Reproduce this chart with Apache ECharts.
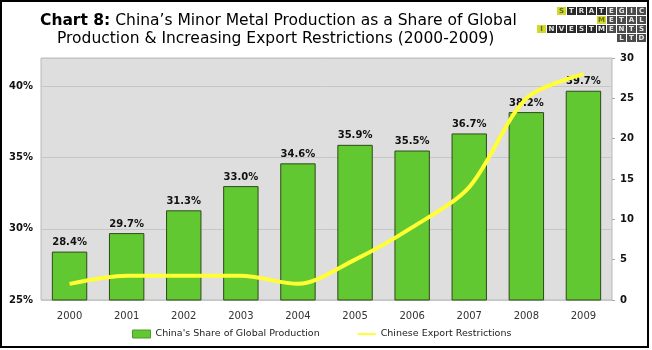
<!DOCTYPE html>
<html>
<head>
<meta charset="utf-8">
<script src="https://cdn.jsdelivr.net/npm/echarts@6/dist/echarts.min.js"></script>
<style>
html,body{margin:0;padding:0;background:#fff;}
#chart{width:652px;height:350px;}
</style>
</head>
<body>
<div id="chart"></div>
<script>
var years = ['2000','2001','2002','2003','2004','2005','2006','2007','2008','2009'];
var shareOfGlobal = [28.4, 29.7, 31.3, 33.0, 34.6, 35.9, 35.5, 36.7, 38.2, 39.7];
var exportRestrictions = [2, 3, 3, 3, 2, 5, 9, 14, 25, 28];
var seriesNames = ["China's Share of Global Production", "Chinese Export Restrictions"];
var titleBold = 'Chart 8:';
var titleLine1 = " China\u2019s Minor Metal Production as a Share of Global";
var titleLine2 = 'Production & Increasing Export Restrictions (2000-2009)';
var logoRows = [
  {word: 'STRATEGIC', startCol: 0, hi: 0},
  {word: 'METAL', startCol: 4, hi: 0},
  {word: 'INVESTMENTS', startCol: -2, hi: 0},
  {word: 'LTD', startCol: 6, hi: -1}
];

var font = 'DejaVu Sans';
var chart = echarts.init(document.getElementById('chart'), null, {renderer: 'canvas'});

var logoEls = [];
logoRows.forEach(function (row, r) {
  for (var i = 0; i < row.word.length; i++) {
    var c = row.startCol + i;
    var x = 557 + 10 * c, y = 7 + 9 * r;
    var isHi = (i === row.hi);
    logoEls.push({
      type: 'rect', shape: {x: x, y: y, width: 9, height: 8},
      style: {fill: isHi ? '#d2d92e' : (c >= 5 ? '#4a4a4a' : '#2b2b2b')}
    });
    logoEls.push({
      type: 'text', x: x + 4.5, y: y + 4.5,
      style: {text: row.word[i], fill: isHi ? '#6b6b1a' : '#e8e8e8', font: 'bold 7px ' + font, align: 'center', verticalAlign: 'middle'}
    });
  }
});

var option = {
  animation: false,
  backgroundColor: '#ffffff',
  textStyle: {fontFamily: font},
  graphic: [
    {type: 'rect', shape: {x: 1, y: 1, width: 647, height: 346}, style: {fill: 'none', stroke: '#000', lineWidth: 2}, z: 100},
    {type: 'text', top: 13, left: 40, style: {
      rich: {b: {font: 'bold 15.5px ' + font, fill: '#000'}, n: {font: '15.5px ' + font, fill: '#000'}},
      text: '{b|' + titleBold + '}{n|' + titleLine1 + '}'
    }},
    {type: 'text', top: 31, left: 57, style: {text: titleLine2, font: '15.5px ' + font, fill: '#000'}},
    {type: 'group', children: logoEls}
  ],
  grid: {left: 41, right: 40, top: 58, bottom: 50, show: true, backgroundColor: '#dedede', borderColor: '#b8b8b8', borderWidth: 1},
  legend: {
    bottom: 6, left: 127, itemGap: 38, itemWidth: 18, itemHeight: 8,
    textStyle: {fontFamily: font, fontSize: 9.5, color: '#222'},
    data: [
      {name: seriesNames[0], icon: 'rect', itemStyle: {borderColor: '#4f9a2a', borderWidth: 1}},
      {name: seriesNames[1], icon: 'path://M0,3 L18,3 L18,5 L0,5 Z'}
    ]
  },
  xAxis: {
    type: 'category', data: years,
    axisLine: {show: false}, axisTick: {show: false},
    axisLabel: {fontFamily: font, fontSize: 10, color: '#333', margin: 11}
  },
  yAxis: [
    {
      type: 'value', min: 25, max: 42, interval: 5,
      axisLine: {show: false}, axisTick: {show: false},
      splitLine: {lineStyle: {color: '#c6c6c6'}},
      axisLabel: {fontFamily: font, fontSize: 10, fontWeight: 'bold', color: '#111', formatter: '{value}%', showMaxLabel: false, margin: 8}
    },
    {
      type: 'value', min: 0, max: 30, interval: 5,
      axisLine: {show: false}, axisTick: {show: true, length: 3, inside: false, lineStyle: {color: '#aaa'}},
      splitLine: {show: false},
      axisLabel: {fontFamily: font, fontSize: 10, fontWeight: 'bold', color: '#111', margin: 8}
    }
  ],
  series: [
    {
      name: seriesNames[0], type: 'bar', data: shareOfGlobal, barWidth: '62%',
      itemStyle: {color: '#62c832', borderColor: '#2e4a18', borderWidth: 1},
      label: {show: true, position: 'top', distance: 4, formatter: function (p) { return p.value.toFixed(1) + '%'; }, fontFamily: font, fontSize: 10, fontWeight: 'bold', color: '#111'}
    },
    {
      name: seriesNames[1], type: 'line', yAxisIndex: 1, data: exportRestrictions, smooth: 0.3,
      symbol: 'none', lineStyle: {color: '#ffff33', width: 4}, itemStyle: {color: '#ffff33'}, z: 5
    }
  ]
};
chart.setOption(option);
</script>
</body>
</html>
